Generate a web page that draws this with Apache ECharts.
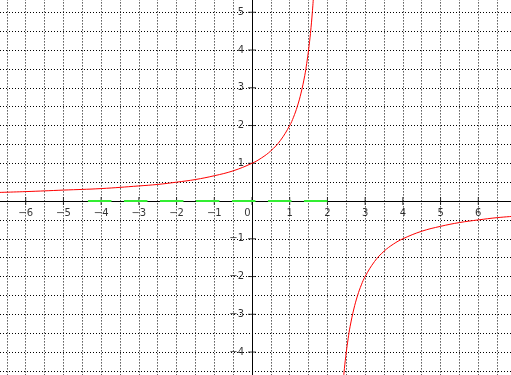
<!DOCTYPE html>
<html><head><meta charset="utf-8">
<script src="https://cdn.jsdelivr.net/npm/echarts@6/dist/echarts.min.js"></script>
<style>html,body{margin:0;padding:0;background:#fff;overflow:hidden}#c{width:511px;height:375px}</style>
</head><body><div id="c"></div>
<script>
// Upper branch of the red curve
const upperX = [-7, -6, -5, -4, -3, -2.5, -2, -1.5, -1, -0.5, 0, 0.25, 0.5, 0.75, 1, 1.1, 1.2, 1.3, 1.4, 1.45, 1.5, 1.55, 1.6, 1.65];
const upperY = [0.22, 0.25, 0.29, 0.33, 0.4, 0.44, 0.5, 0.57, 0.67, 0.8, 1, 1.14, 1.33, 1.6, 2, 2.22, 2.5, 2.86, 3.33, 3.64, 4, 4.44, 5, 5.71];
// Lower branch of the red curve
const lowerX = [2.36, 2.4, 2.45, 2.5, 2.55, 2.6, 2.7, 2.8, 2.9, 3, 3.25, 3.5, 3.75, 4, 4.5, 5, 5.5, 6, 6.5, 7];
const lowerY = [-5.56, -5, -4.44, -4, -3.64, -3.33, -2.86, -2.5, -2.22, -2, -1.6, -1.33, -1.14, -1, -0.8, -0.67, -0.57, -0.5, -0.44, -0.4];
// Green dashed segment on y = 0
const greenX = [-4.35, 2.0];
const greenY = [0, 0];
// Tick positions / labels
const xTicks = [-6, -5, -4, -3, -2, -1, 0, 1, 2, 3, 4, 5, 6];
const yTicks = [-4, -3, -2, -1, 1, 2, 3, 4, 5];

const zip = (a, b) => a.map((v, i) => [v, b[i]]);
const fmt = v => (v < 0 ? '\u2212' + Math.abs(v) : String(v));
const font = 'DejaVu Sans';
const dotted = { color: '#000', width: 1, type: [1, 2] };

const chart = echarts.init(document.getElementById('c'), null, { renderer: 'canvas' });
chart.setOption({
  backgroundColor: '#fff',
  animation: false,
  grid: { left: -12, right: -5, top: -6.6, bottom: -14.8, containLabel: false, outerBoundsMode: 'none' },
  xAxis: {
    type: 'value', min: -7, max: 7, interval: 1,
    axisLine: { onZero: true, lineStyle: { color: '#000', width: 1 } },
    axisTick: { show: false },
    axisLabel: { show: false },
    minorTick: { show: false, splitNumber: 2 },
    splitLine: { show: true, lineStyle: dotted },
    minorSplitLine: { show: true, lineStyle: dotted }
  },
  yAxis: {
    type: 'value', min: -5, max: 5.5, interval: 1,
    axisLine: { onZero: true, lineStyle: { color: '#000', width: 1 } },
    axisTick: { show: false },
    axisLabel: { show: false },
    minorTick: { show: false, splitNumber: 2 },
    splitLine: { show: true, lineStyle: dotted },
    minorSplitLine: { show: true, lineStyle: dotted }
  },
  series: [
    { type: 'scatter', silent: true, symbol: 'rect', symbolSize: [1, 8], z: 3,
      itemStyle: { color: '#000' }, data: xTicks.map(v => [v, 0]),
      label: {
        show: true, position: 'bottom', distance: 3, color: '#000', fontFamily: font, fontSize: 10,
        formatter: p => (p.value[0] === 0 ? '{o|0}' : fmt(p.value[0])),
        rich: { o: { padding: [0, 9, 0, 0], color: '#000', fontFamily: font, fontSize: 10 } }
      } },
    { type: 'scatter', silent: true, symbol: 'rect', symbolSize: [8, 1], z: 3,
      itemStyle: { color: '#000' }, data: yTicks.map(v => [0, v]),
      label: {
        show: true, position: 'left', distance: 4, color: '#000', fontFamily: font, fontSize: 10,
        formatter: p => fmt(p.value[1])
      } },
    { type: 'line', silent: true, showSymbol: false, z: 4,
      lineStyle: { color: '#33ee33', width: 2, type: [23.5, 12.5] },
      data: zip(greenX, greenY) },
    { type: 'line', silent: true, showSymbol: false, smooth: 0.4, z: 5,
      lineStyle: { color: '#ff0000', width: 1 }, data: zip(upperX, upperY) },
    { type: 'line', silent: true, showSymbol: false, smooth: 0.4, z: 5,
      lineStyle: { color: '#ff0000', width: 1 }, data: zip(lowerX, lowerY) }
  ]
});
</script>
</body></html>
